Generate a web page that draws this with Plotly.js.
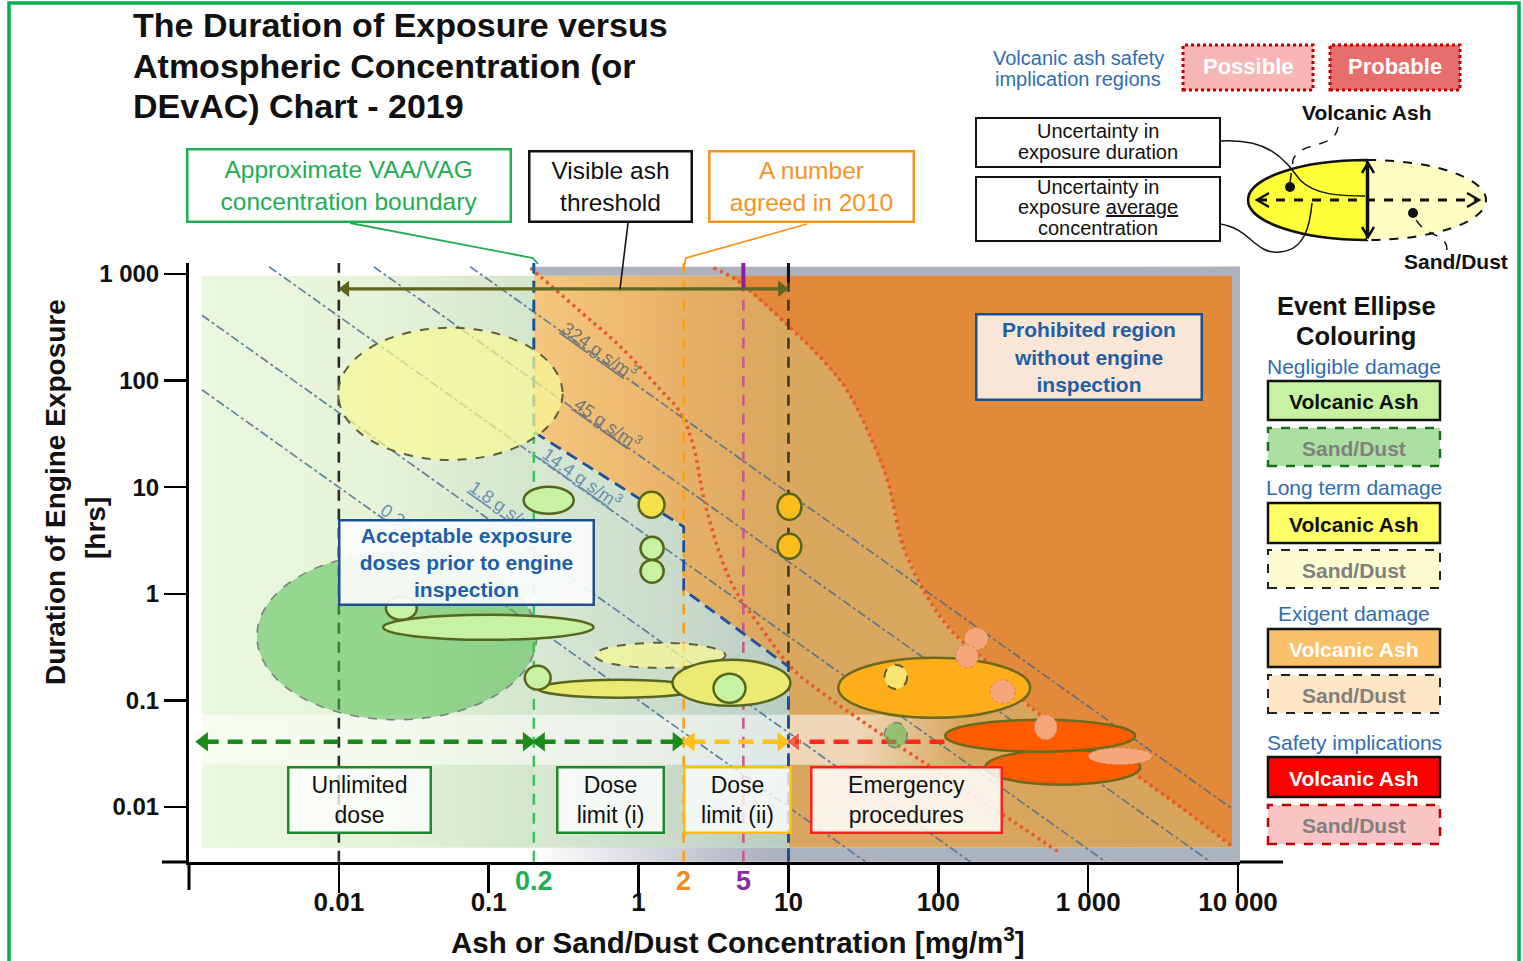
<!DOCTYPE html>
<html><head><meta charset="utf-8">
<script src="https://cdn.plot.ly/plotly-3.0.1.min.js"></script>
<style>html,body{margin:0;padding:0;background:#fff;}#chart{width:1523px;height:961px;}</style>
</head><body><div id="chart"></div>
<script>
// ================= DATA =================
const xTickVals = [0.01, 0.1, 1, 10, 100, 1000, 10000];
const xTickText = ['0.01', '0.1', '1', '10', '100', '1 000', '10 000'];
const yTickVals = [0.01, 0.1, 1, 10, 100, 1000];
const yTickText = ['0.01', '0.1', '1', '10', '100', '1 000'];

const keyConcValues = [0.2, 2, 5];
const keyConcLabels = ['0.2', '2', '5'];

const thresholdConc = [0.01, 0.2, 2, 5, 10];

const doseLabels = ['0.36 g s/m³', '1.8 g s/m³', '14.4 g s/m³', '45 g s/m³', '324 g s/m³'];
const doseProducts = [0.1, 0.5, 4, 20, 88];   // concentration × hours of each dose line, as drawn

const boundaryConc = [0.2, 0.2, 2, 2, 10, 10];
const boundaryHours = [1300, 33, 4.25, 1.09, 0.207, 0.003];

const possibleConc = [0.19, 0.222, 0.411, 0.759, 1.40, 1.905, 2.33, 2.71, 3.36, 4.30, 6.50, 10.8, 18.2, 35.2, 120, 259, 631];
const possibleHours = [1143, 942, 442, 207, 82, 49.9, 23.9, 8.13, 2.76, 1.16, 0.49, 0.194, 0.108, 0.0565, 0.018, 0.00883, 0.0038];
const probableConc = [3.16, 4.57, 10.3, 16.9, 24.0, 33.6, 45.7, 58.4, 84.5, 126, 259, 410, 1995, 9260];
const probableHours = [1143, 863, 313, 157, 85.5, 34.5, 11.7, 2.76, 0.937, 0.431, 0.1815, 0.0871, 0.0209, 0.00423];

const visibleArrowConc = [0.01, 10];
const visibleArrowHours = 726;
const zoneFrom = [0.00113, 0.2, 2];
const zoneTo = [0.2, 2, 10];
const emergencyFrom = 110, emergencyTo = 10;
const zoneArrowHours = 0.0409;

// event ellipses (draw order)
const evConcMin  = [0.00284, 0.0099, 0.171, 0.0206, 0.0197, 1.0, 1.03, 1.03, 8.45, 8.45, 0.509, 0.212, 0.174, 1.685, 3.16, 21.5, 43.7, 149, 130, 222, 206, 111, 437, 1000, 43.7];
const evConcMax  = [0.209, 0.311, 0.369, 0.0331, 0.501, 1.49, 1.47, 1.47, 12.2, 12.2, 3.80, 2.59, 0.259, 10.3, 5.17, 410, 62, 215, 185, 326, 2220, 2057, 621, 2670, 62];
const evHoursMin = [0.0658, 18, 5.63, 0.570, 0.370, 5.17, 2.08, 1.27, 4.94, 2.13, 0.202, 0.106, 0.126, 0.089, 0.095, 0.0687, 0.128, 0.298, 0.202, 0.093, 0.0162, 0.033, 0.0427, 0.0249, 0.0359];
const evHoursMax = [2.43, 313, 10.1, 0.937, 0.635, 9.06, 3.43, 2.08, 8.67, 3.65, 0.347, 0.156, 0.211, 0.24, 0.178, 0.251, 0.216, 0.480, 0.333, 0.156, 0.0344, 0.0658, 0.0733, 0.0359, 0.062];
const evKind = ['dustNeg','dustLong','ashNeg','ashNeg','ashNeg','ashLong','ashNeg','ashNeg','ashExig','ashExig','dustLong','ashLongH','ashNeg','ashLongH','ashNeg','ashExigH','dustLong','dustSafe','dustSafe','dustSafe','ashSafe','ashSafe','dustSafe','dustSafe','dustNeg'];

const legendGroups = ['Negligible damage', 'Long term damage', 'Exigent damage', 'Safety implications'];

// ================= LAYOUT HELPERS =================
const L = 189, R = 1240, T = 263, B = 862;
const FONT = 'Liberation Sans, Arial, Helvetica, sans-serif';
const px = x => (x - L) / (R - L);
const py = y => (B - y) / (B - T);
const traces = [], shapes = [], annotations = [];

const innerLeft = 0.00122, innerRight = 9120, innerTop = 962, innerBottom = 0.00414;
const frameRight = 10310, frameTop = 1169, axisBottom = 0.00306;
const bandLow = 0.0249, bandHigh = 0.0733, bandRight = 151;

function poly(xs, ys, fill, grad) {
  const t = {type:'scatter', mode:'lines', x:xs, y:ys, fill:'toself', line:{width:0, color:'rgba(0,0,0,0)'}, hoverinfo:'skip', showlegend:false};
  if (grad) t.fillgradient = {type:'horizontal', colorscale:grad}; else t.fillcolor = fill;
  traces.push(t);
}
function line(xs, ys, color, width, dash, shape, extra) {
  traces.push(Object.assign({type:'scatter', mode:'lines', x:xs, y:ys, line:{color:color, width:width, dash:dash||'solid', shape:shape||'linear'}, hoverinfo:'skip', showlegend:false}, extra||{}));
}
function rectPx(x0,y0,x1,y1,fill,lc,lw,dash){
  shapes.push({type:'rect', xref:'paper', yref:'paper', x0:px(x0), x1:px(x1), y0:py(y1), y1:py(y0), fillcolor:fill, line:{color:lc, width:lw, dash:dash||'solid'}, layer:'above'});
}
function pathPx(cmds, fill, lc, lw, dash){
  let s = '';
  cmds.forEach(c => { s += c[0]; for (let i=1;i<c.length;i+=2) s += ' ' + px(c[i]).toFixed(5) + ',' + py(c[i+1]).toFixed(5); s += ' '; });
  shapes.push({type:'path', xref:'paper', yref:'paper', path:s.trim(), fillcolor:fill||'rgba(0,0,0,0)', line:{color:lc, width:lw, dash:dash||'solid'}, layer:'above'});
}
function textPx(x,y,text,size,color,opts){
  annotations.push(Object.assign({xref:'paper', yref:'paper', x:px(x), y:py(y), text:text, showarrow:false, font:{family:FONT, size:size, color:color}, xanchor:'center', yanchor:'middle'}, opts||{}));
}
function linesPx(x, y0, gap, lines, size, color, opts){
  lines.forEach((t, i) => textPx(x, y0 + i*gap, t, size, color, opts));
}
function boxPx(x0,y0,x1,y1,text,size,color,border,bw,bg){
  annotations.push({xref:'paper', yref:'paper', x:px((x0+x1)/2), y:py((y0+y1)/2), xanchor:'center', yanchor:'middle', text:text, showarrow:false,
    font:{family:FONT, size:size, color:color}, width:x1-x0-2*bw, height:y1-y0-2*bw, bordercolor:border, borderwidth:bw, borderpad:0, bgcolor:bg, align:'center', valign:'middle'});
}

// ================= BACKGROUND REGIONS =================
poly([innerLeft, 0.2, 0.2, innerLeft], [innerBottom, innerBottom, innerTop, innerTop], null,
  [[0,'#ebf8e0'],[0.55,'#e5f3d8'],[1,'#d3e5cd']]);
poly([0.2, frameRight, frameRight, boundaryConc[5], boundaryConc[4], boundaryConc[3], boundaryConc[2], boundaryConc[1]],
     [innerTop, innerTop, innerBottom, innerBottom, boundaryHours[4], boundaryHours[3], boundaryHours[2], boundaryHours[1]], null,
  [[0,'#f4c77f'],[0.1,'#efbd72'],[0.22,'#e6b166'],[0.34,'#daa75e'],[1,'#d6a45b']]);
poly(probableConc.concat([frameRight, frameRight]), probableHours.concat([probableHours[probableHours.length-1], frameTop]), '#e2893a');
poly([boundaryConc[1], boundaryConc[2], boundaryConc[3], boundaryConc[4], boundaryConc[5], 0.2],
     [boundaryHours[1], boundaryHours[2], boundaryHours[3], boundaryHours[4], innerBottom, innerBottom], null,
  [[0,'#d8e8d2'],[0.55,'#cadbcb'],[1,'#b7ccc3']]);
poly([innerLeft, bandRight, bandRight, innerLeft], [bandLow, bandLow, bandHigh, bandHigh], null,
  [[0,'rgba(255,255,255,0.55)'],[0.86,'rgba(255,255,255,0.55)'],[1,'rgba(255,255,255,0)']]);
poly([0.2, frameRight, frameRight, 0.2], [innerTop, innerTop, frameTop, frameTop], '#adb2bf');
poly([innerRight, frameRight, frameRight, innerRight], [axisBottom, axisBottom, frameTop, frameTop], '#adb2bf');
poly([0.2, frameRight, frameRight, 0.2], [axisBottom, axisBottom, innerBottom, innerBottom], null,
  [[0,'rgba(173,178,191,0)'],[0.33,'rgba(173,178,191,1)'],[1,'rgba(173,178,191,1)']]);

// ================= DOSE LINES =================
doseProducts.forEach(d => {
  const s = d / frameTop >= innerLeft ? [d / frameTop, frameTop] : [innerLeft, d / innerLeft];
  const e = d / axisBottom <= innerRight ? [d / axisBottom, axisBottom] : [innerRight, d / innerRight];
  line([s[0], e[0]], [s[1], e[1]], 'rgba(70,110,150,0.85)', 1.7, 'dashdot');
});

// ================= DOTTED REGION CURVES =================
line(possibleConc, possibleHours, '#e8582a', 3.5, '3px,4px', 'spline');
line(probableConc, probableHours, '#e8582a', 3.5, '3px,4px', 'spline');

// ================= THRESHOLD LINES =================
const thrColors = ['#2b2b2b', '#3cc463', '#f7a21c', '#c95a8c', '#3d3a1c'];
thresholdConc.forEach((c, i) => line([c, c], [axisBottom, 1300], thrColors[i], 2.6, '11px,8px'));
line([thresholdConc[3], thresholdConc[3]], [718, 1300], '#8e1fa0', 4);
line([thresholdConc[4], thresholdConc[4]], [830, 1300], '#111', 3);
line(boundaryConc, boundaryHours, '#1f4f9f', 2.8, '12px,7px');

// ================= ARROWS =================
const hd = Math.pow(10, 0.045);
line([visibleArrowConc[0]*hd, visibleArrowConc[1]/hd], [visibleArrowHours, visibleArrowHours], '#5e6620', 3.2, 'solid', 'linear',
  {mode:'lines+markers', marker:{symbol:['triangle-left','triangle-right'], size:14, color:'#5e6620'}});
const zoneCols = ['#1b8a1b', '#1b8a1b', '#ffc21a'];
zoneFrom.forEach((f, i) => {
  line([f*hd, zoneTo[i]/hd], [zoneArrowHours, zoneArrowHours], zoneCols[i], 4.5, '15px,9px', 'linear',
    {mode:'lines+markers', marker:{symbol:['triangle-left','triangle-right'], size:17, color:zoneCols[i]}});
});
line([emergencyFrom, emergencyTo*hd], [zoneArrowHours, zoneArrowHours], '#ff2a1a', 4.5, '15px,9px', 'linear',
  {mode:'lines+markers', marker:{symbol:['circle','triangle-left'], size:[0.1,17], color:'#ff2a1a'}});

// ================= EVENT ELLIPSES =================
const kindStyle = {
  ashNeg:   {fill:'#c6f2a2', lc:'#56661e', lw:2.5, dash:'solid'},
  dustNeg:  {fill:'rgba(80,190,80,0.55)', lc:'#808080', lw:1.6, dash:'dash'},
  ashLong:  {fill:'#f5e24a', lc:'#56661e', lw:2.5, dash:'solid'},
  dustLong: {fill:'rgba(246,250,150,0.72)', lc:'#5f5f40', lw:2, dash:'dash'},
  ashLongH: {fill:'#ebeb74', lc:'#56661e', lw:2.5, dash:'solid'},
  ashExig:  {fill:'#fbbd1a', lc:'#56661e', lw:2.5, dash:'solid'},
  ashExigH: {fill:'#fdae18', lc:'#6b6a1e', lw:2.5, dash:'solid'},
  ashSafe:  {fill:'#ff5c00', lc:'#6b6a1e', lw:2.5, dash:'solid'},
  dustSafe: {fill:'#f5a77c', lc:'rgba(200,90,40,0.5)', lw:1, dash:'dot'}
};
evKind.forEach((k, i) => {
  const s = kindStyle[k];
  shapes.push({type:'circle', xref:'x', yref:'y', x0:evConcMin[i], x1:evConcMax[i], y0:evHoursMin[i], y1:evHoursMax[i],
    fillcolor:s.fill, line:{color:s.lc, width:s.lw, dash:s.dash}, layer:'above'});
});

// ================= AXIS EXTENSIONS, FRAME, LEADERS =================
shapes.push({type:'line', xref:'paper', yref:'paper', x0:px(162), x1:px(L), y0:0, y1:0, line:{color:'#000', width:3}});
shapes.push({type:'line', xref:'paper', yref:'paper', x0:px(R), x1:px(1283), y0:0, y1:0, line:{color:'#000', width:3}});
shapes.push({type:'line', xref:'paper', yref:'paper', x0:0, x1:0, y0:py(890), y1:0, line:{color:'#000', width:3}});
shapes.push({type:'rect', xref:'paper', yref:'paper', x0:px(9), x1:px(1519), y0:py(975), y1:py(3), line:{color:'#00b050', width:3.5}, fillcolor:'rgba(0,0,0,0)', layer:'above'});
pathPx([['M',350,223],['L',533,258],['L',538,264]], null, '#22ad55', 1.8);
pathPx([['M',628,223],['L',620,289]], null, '#111', 1.6);
pathPx([['M',807,224],['L',686,258],['L',684,266]], null, '#f7941d', 1.8);

// ================= DOSE LABELS =================
const doseLabelPos = [[420,533],[505,507],[582,477],[608,423],[600,350]];
const doseLabelCol = ['#6b8fb5','#6b8fb5','#6b8fb5','#777777','#777777'];
doseLabels.forEach((t, i) => {
  const parts = t.split('³');
  textPx(doseLabelPos[i][0], doseLabelPos[i][1], '<span style="text-decoration:underline">' + parts[0] + '</span><sup>3</sup>', 18, doseLabelCol[i], {textangle:35.4});
});

// ================= BOXES IN PLOT =================
boxPx(338,519,595,606,'<b>Acceptable exposure<br>doses prior to engine<br>inspection</b>',21,'#1f5fa6','#1f4e8c',2.5,'rgba(250,252,250,0.93)');
boxPx(975,313,1203,401,'<b>Prohibited region<br>without engine<br>inspection</b>',21,'#1f5fa6','#1f4e8c',2.5,'#f9e6d7');
boxPx(287,766,432,834,'Unlimited<br>dose',23,'#111','#1d8a2c',2.5,'rgba(255,255,255,0.78)');
boxPx(556,766,665,834,'Dose<br>limit (i)',23,'#111','#1d8a2c',2.5,'rgba(255,255,255,0.78)');
boxPx(683,766,792,834,'Dose<br>limit (ii)',23,'#111','#ffc000',2.5,'rgba(255,255,255,0.78)');
boxPx(810,766,1003,834,'Emergency<br>procedures',23,'#111','#ff1f1f',2.5,'rgba(255,255,255,0.85)');

// ================= CALLOUTS ABOVE =================
boxPx(186,148,512,223,'Approximate VAA/VAG<br>concentration boundary',24.5,'#22ad55','#22ad55',2.5,'#ffffff');
boxPx(528,150,693,223,'Visible ash<br>threshold',24.5,'#111','#111',2.5,'#ffffff');
boxPx(708,150,915,223,'A number<br>agreed in 2010',24.5,'#f7941d','#f7941d',2.5,'#ffffff');

// ================= TITLE =================
linesPx(131, 25, 40.5, ['<b>The Duration of Exposure versus</b>', '<b>Atmospheric Concentration (or</b>', '<b>DEvAC) Chart - 2019</b>'], 34, '#111', {xanchor:'left'});

// ================= TOP RIGHT KEY =================
linesPx(1078, 58, 21, ['Volcanic ash safety', 'implication regions'], 20, '#2f6db0');
rectPx(1183,45,1313,90,'#f6b6b6','#c00000',3,'dot'); textPx(1248,67,'<b>Possible</b>',22,'#ffffff');
rectPx(1330,45,1460,90,'#e86e6e','#c00000',3,'dot'); textPx(1395,67,'<b>Probable</b>',22,'#ffffff');
rectPx(976,118,1220,167,'#ffffff','#111',2);
linesPx(1098, 131, 20.5, ['Uncertainty in', 'exposure duration'], 20, '#111');
rectPx(976,177,1220,241,'#ffffff','#111',2);
linesPx(1098, 187, 20.5, ['Uncertainty in', 'exposure <span style="text-decoration:underline">average</span>', 'concentration'], 20, '#111');
textPx(1367,113,'<b>Volcanic Ash</b>',21,'#111');
textPx(1456,261,'<b>Sand/Dust</b>',21,'#111');
(function(){
  const cx=1367, cy=200, rx=119, ry=40, k=0.5523;
  pathPx([['M',cx,cy-ry],['C',cx-k*rx,cy-ry,cx-rx,cy-k*ry,cx-rx,cy],['C',cx-rx,cy+k*ry,cx-k*rx,cy+ry,cx,cy+ry],['Z']], '#ffff3a', '#111', 2.5);
  pathPx([['M',cx,cy-ry],['C',cx+k*rx,cy-ry,cx+rx,cy-k*ry,cx+rx,cy],['C',cx+rx,cy+k*ry,cx+k*rx,cy+ry,cx,cy+ry],['Z']], '#fffcc4', '#111', 2, 'dash');
  pathPx([['M',1258,200],['L',1478,200]], null, '#111', 3, 'dash');
  pathPx([['M',1269,193],['L',1257,200],['L',1269,207]], null, '#111', 2.5);
  pathPx([['M',1467,193],['L',1479,200],['L',1467,207]], null, '#111', 2.5);
  pathPx([['M',1368,164],['L',1368,236]], null, '#111', 2.5);
  pathPx([['M',1362,173],['L',1368,163],['L',1374,173]], null, '#111', 2.5);
  pathPx([['M',1362,227],['L',1368,237],['L',1374,227]], null, '#111', 2.5);
  shapes.push({type:'circle', xref:'paper', yref:'paper', x0:px(1285), x1:px(1295), y0:py(192), y1:py(182), fillcolor:'#111', line:{width:0}, layer:'above'});
  shapes.push({type:'circle', xref:'paper', yref:'paper', x0:px(1408), x1:px(1418), y0:py(218), y1:py(208), fillcolor:'#111', line:{width:0}, layer:'above'});
  pathPx([['M',1338,127],['C',1335,150,1300,140,1293,160],['L',1290,183]], null, '#111', 1.5, 'dash');
  pathPx([['M',1447,250],['C',1447,232,1425,238,1415,218]], null, '#111', 1.5, 'dash');
  pathPx([['M',1220,141],['C',1270,138,1285,160,1300,180],['C',1315,195,1340,196,1365,196]], null, '#111', 1.5);
  pathPx([['M',1220,224],['C',1250,228,1255,255,1280,252],['C',1305,250,1310,225,1312,203]], null, '#111', 1.5);
})();

// ================= EVENT ELLIPSE COLOURING LEGEND =================
linesPx(1356, 306, 30, ['<b>Event Ellipse</b>', '<b>Colouring</b>'], 25.5, '#111');
const groupY = [366, 487, 613, 742];
legendGroups.forEach((g, i) => textPx(1354, groupY[i], g, 21, '#2f6db0'));
const legBoxes = [
  [381,420,'#c6f2a2','#111',2.5,'solid','Volcanic Ash','#111'],
  [428,466,'#ace0a2','#1d6b1d',2.5,'dash','Sand/Dust','#808080'],
  [503,543,'#ffff66','#111',2.5,'solid','Volcanic Ash','#111'],
  [550,588,'#fdfcd0','#222',2,'dash','Sand/Dust','#808080'],
  [629,667,'#fbc06a','#111',2.5,'solid','Volcanic Ash','#ffffff'],
  [675,713,'#fde6c4','#222',2,'dash','Sand/Dust','#808080'],
  [757,797,'#ff0000','#111',2.5,'solid','Volcanic Ash','#ffffff'],
  [805,844,'#f8c4c4','#c00000',2.5,'dash','Sand/Dust','#808080']
];
legBoxes.forEach(b => { rectPx(1268,b[0],1440,b[1],b[2],b[3],b[4],b[5]); textPx(1354,(b[0]+b[1])/2+1,'<b>'+b[6]+'</b>',21,b[7]); });

// ================= AXIS TITLES & KEY LABELS =================
textPx(738,940,'<b>Ash or Sand/Dust Concentration [mg/m<sup>3</sup>]</b>',29.5,'#111');
textPx(55,492,'<b>Duration of Engine Exposure</b>',28,'#111',{textangle:-90});
textPx(95,528,'<b>[hrs]</b>',28,'#111',{textangle:-90});
const keyCols = ['#1fae52', '#f08a1c', '#8e2aa0'];
keyConcValues.forEach((v, i) => annotations.push({xref:'x', yref:'paper', x:Math.log10(v), y:py(881), text:'<b>'+keyConcLabels[i]+'</b>', showarrow:false,
  font:{family:FONT, size:27, color:keyCols[i]}, xanchor:'center', yanchor:'middle'}));

const layout = {
  width:1523, height:961,
  margin:{l:L, r:1523-R, t:T, b:961-B},
  paper_bgcolor:'#ffffff', plot_bgcolor:'#ffffff',
  showlegend:false, hovermode:false,
  xaxis:{type:'log', range:[-3, 4.013], tickvals:xTickVals, ticktext:xTickText.map(t => '<b>'+t+'</b>'), ticks:'outside', ticklen:28, tickwidth:2.5, tickcolor:'#000',
    ticklabelstandoff:-13, showline:true, linecolor:'#000', linewidth:3, showgrid:false, zeroline:false, tickfont:{family:FONT, size:26, color:'#111'}, fixedrange:true},
  yaxis:{type:'log', range:[-2.516, 3.103], tickvals:yTickVals, ticktext:yTickText.map(t => '<b>'+t+'</b>'), ticks:'outside', ticklen:22, tickwidth:2.5, tickcolor:'#000',
    showline:true, linecolor:'#000', linewidth:3, showgrid:false, zeroline:false, tickfont:{family:FONT, size:24, color:'#111'}, fixedrange:true},
  shapes:shapes, annotations:annotations
};
Plotly.newPlot('chart', traces, layout, {displayModeBar:false, staticPlot:true});
</script></body></html>
